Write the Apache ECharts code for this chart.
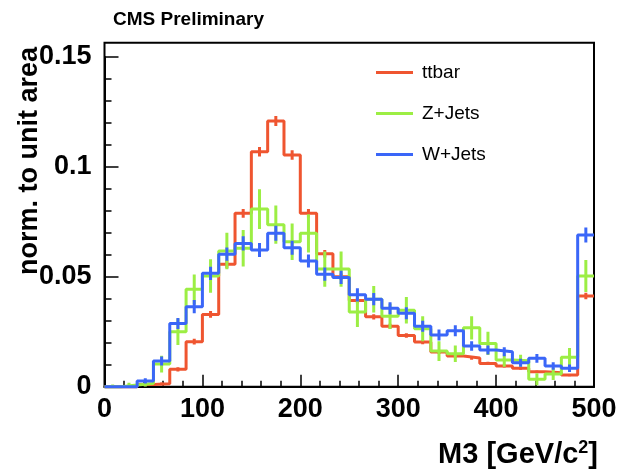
<!DOCTYPE html>
<html>
<head>
<meta charset="utf-8">
<script src="https://cdn.jsdelivr.net/npm/echarts@6/dist/echarts.min.js"></script>
<style>html,body{margin:0;padding:0;background:#fff}#chart{width:622px;height:471px}</style>
</head>
<body>
<div id="chart"></div>
<script>
// 30 bins of M3 between 0 and 500 GeV/c^2
const X_MIN = 0, X_MAX = 500, N_BINS = 30;
const seriesNames = ['ttbar', 'Z+Jets', 'W+Jets'];
const seriesColors = ['#ef5530', '#9cee44', '#3a66f8'];
const xTicks = [0, 100, 200, 300, 400, 500];
const yTicks = [0, 0.05, 0.1, 0.15];

const ttbar = [0, 0, 0.0010, 0.0013, 0.0079, 0.0205, 0.0329, 0.0557, 0.0789, 0.1069,
  0.1209, 0.1054, 0.0789, 0.0605, 0.0500, 0.0392, 0.0318, 0.0275, 0.0233, 0.0203,
  0.0158, 0.0140, 0.0131, 0.0106, 0.0094, 0.0084, 0.0068, 0.0064, 0.0053, 0.0413];
const ttbarErr = [0, 0, 0.0006, 0.0006, 0.0010, 0.0013, 0.0015, 0.0018, 0.0020, 0.0022,
  0.0023, 0.0022, 0.0020, 0.0017, 0.0015, 0.0013, 0.0012, 0.0011, 0.0010, 0.0010,
  0.0009, 0.0008, 0.0008, 0.0007, 0.0007, 0.0007, 0.0006, 0.0006, 0.0005, 0.0015];

const zjets = [0, 0.0008, 0.0015, 0.0103, 0.0250, 0.0443, 0.0504, 0.0617, 0.0630, 0.0808,
  0.0737, 0.0660, 0.0698, 0.0535, 0.0535, 0.0340, 0.0398, 0.0320, 0.0348, 0.0264,
  0.0162, 0.0150, 0.0268, 0.0197, 0.0121, 0.0118, 0.0034, 0.0058, 0.0134, 0.0504];
const zjetsErr = [0.001, 0.001, 0.0015, 0.0038, 0.0060, 0.0068, 0.0076, 0.0083, 0.0083, 0.0090,
  0.0087, 0.0083, 0.0087, 0.0080, 0.0080, 0.0068, 0.0060, 0.0057, 0.0060, 0.0057,
  0.0045, 0.0038, 0.0053, 0.0053, 0.0030, 0.0027, 0.0027, 0.0027, 0.0042, 0.0073];

const wjets = [0, 0, 0.0026, 0.0117, 0.0288, 0.0364, 0.0516, 0.0603, 0.0652, 0.0622,
  0.0698, 0.0632, 0.0572, 0.0512, 0.0497, 0.0418, 0.0398, 0.0357, 0.0334, 0.0275,
  0.0235, 0.0255, 0.0185, 0.0167, 0.0159, 0.0109, 0.0129, 0.0094, 0.0084, 0.0690];
const wjetsErr = [0, 0, 0.0012, 0.0020, 0.0025, 0.0030, 0.0030, 0.0030, 0.0032, 0.0032,
  0.0034, 0.0032, 0.0030, 0.0030, 0.0030, 0.0030, 0.0028, 0.0027, 0.0027, 0.0025,
  0.0025, 0.0025, 0.0022, 0.0020, 0.0020, 0.0018, 0.0020, 0.0017, 0.0017, 0.0034];

const binW = (X_MAX - X_MIN) / N_BINS;
function stepData(vals) {
  const d = vals.map((v, i) => [X_MIN + i * binW, v]);
  d.push([X_MAX, vals[vals.length - 1]]);
  return d;
}
function errData(vals, errs) {
  return vals.map((v, i) => [X_MIN + (i + 0.5) * binW, v, errs[i]]);
}

const FONT = '"Liberation Sans", Arial, Helvetica, sans-serif';
const allVals = [ttbar, zjets, wjets];
const allErrs = [ttbarErr, zjetsErr, wjetsErr];

const series = [];
allVals.forEach((vals, k) => {
  series.push({
    name: seriesNames[k], type: 'line', step: 'end', data: stepData(vals),
    showSymbol: false, symbol: 'none', clip: false,
    lineStyle: { color: seriesColors[k], width: 3 },
    itemStyle: { color: seriesColors[k] }, z: 3 + k
  });
  series.push({
    name: seriesNames[k] + '_err', type: 'custom', data: errData(vals, allErrs[k]),
    encode: { x: 0, y: 1 }, z: 3 + k, clip: true,
    renderItem: function (params, api) {
      const x = api.value(0), y = api.value(1), e = api.value(2);
      const p1 = api.coord([x, y - e]);
      const p2 = api.coord([x, y + e]);
      return { type: 'line', shape: { x1: p1[0], y1: p1[1], x2: p2[0], y2: p2[1] },
        style: { stroke: seriesColors[k], lineWidth: 3 } };
    }
  });
});

const chart = echarts.init(document.getElementById('chart'), null, { renderer: 'canvas' });
chart.setOption({
  animation: false,
  backgroundColor: '#fff',
  grid: { left: 104.5, right: 28, top: 57, bottom: 84.3, show: false },
  legend: {
    data: seriesNames, orient: 'vertical', left: 376, top: 63, padding: 0,
    icon: 'rect', itemWidth: 37, itemHeight: 3, itemGap: 22, selectedMode: false,
    textStyle: { fontFamily: FONT, fontSize: 19, color: '#000', padding: [0, 0, 0, 4] }
  },
  xAxis: {
    type: 'value', min: X_MIN, max: X_MAX, interval: 100,
    axisLine: { show: true, onZero: false, lineStyle: { color: '#000', width: 2 } },
    axisTick: { show: true, inside: true, length: 12, lineStyle: { color: '#000', width: 1.5 } },
    minorTick: { show: true, splitNumber: 5, length: 6, lineStyle: { color: '#000', width: 1.5 } },
    splitLine: { show: false },
    axisLabel: { margin: 9, fontFamily: FONT, fontWeight: 'bold', fontSize: 27, color: '#000',
      formatter: v => xTicks.includes(v) ? String(v) : '' }
  },
  yAxis: {
    type: 'value', min: 0, max: 0.15, interval: 0.05,
    axisLine: { show: true, onZero: false, lineStyle: { color: '#000', width: 2 } },
    axisTick: { show: true, inside: true, length: 14, lineStyle: { color: '#000', width: 1.5 } },
    minorTick: { show: true, splitNumber: 5, length: 7, lineStyle: { color: '#000', width: 1.5 } },
    splitLine: { show: false },
    axisLabel: { margin: 13, fontFamily: FONT, fontWeight: 'bold', fontSize: 27, color: '#000',
      formatter: v => { const m = yTicks.find(t => Math.abs(t - v) < 1e-9); return m === undefined ? '' : String(m); } }
  },
  graphic: [
    { type: 'rect', shape: { x: 104.5, y: 42.7, width: 489.5, height: 344 }, z: 1, silent: true,
      style: { fill: 'none', stroke: '#000', lineWidth: 2 } },
    { type: 'text', x: 113, y: 20, z: 10,
      style: { text: 'CMS Preliminary', font: 'bold 19px ' + FONT, fill: '#000',
        textAlign: 'left', textVerticalAlign: 'middle', align: 'left', verticalAlign: 'middle' } },
    { type: 'text', x: 30, y: 47, rotation: Math.PI / 2, z: 10,
      style: { text: 'norm. to unit area', font: 'bold 27px ' + FONT, fill: '#000',
        textAlign: 'right', textVerticalAlign: 'middle', align: 'right', verticalAlign: 'middle' } },
    { type: 'text', x: 598, y: 455, z: 10,
      style: { text: '{a|M3 [GeV/c}{s|2}{a|]}', fill: '#000',
        textAlign: 'right', textVerticalAlign: 'middle', align: 'right', verticalAlign: 'middle',
        rich: {
          a: { font: 'bold 29px ' + FONT, fill: '#000', lineHeight: 32 },
          s: { font: 'bold 18px ' + FONT, fill: '#000', verticalAlign: 'top', lineHeight: 18 }
        } } }
  ],
  series: series
});
</script>
</body>
</html>
